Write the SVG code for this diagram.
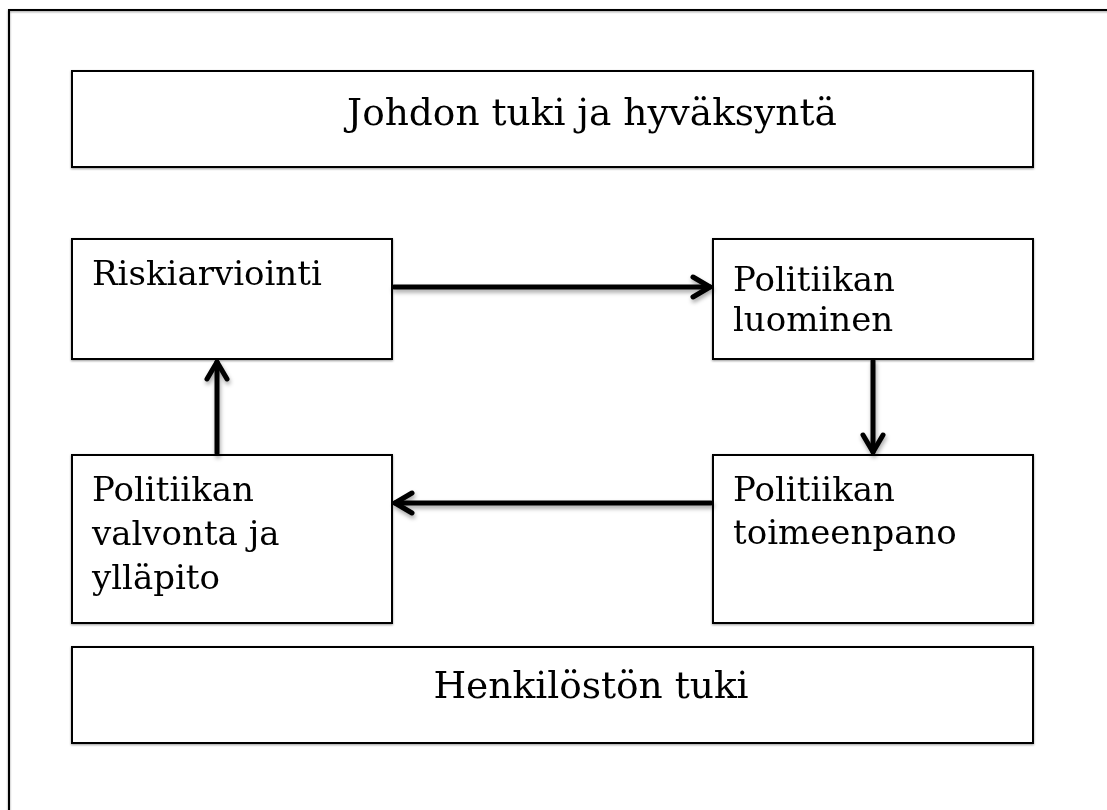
<svg xmlns="http://www.w3.org/2000/svg" width="1107" height="810" viewBox="0 0 1107 810">
  <style>
    .box { fill: #ffffff; stroke: #000000; stroke-width: 2; }
    .lbl { font-family: "DejaVu Serif", "Liberation Serif", serif; font-size: 34px; fill: #000000; }
    .big { font-family: "DejaVu Serif", "Liberation Serif", serif; font-size: 37.5px; fill: #000000; text-anchor: middle; }
    .conn { stroke: #000000; stroke-width: 5; fill: none; stroke-linecap: round; stroke-linejoin: round; }
  </style>
  <defs>
    <filter id="sh" x="-20%" y="-50%" width="140%" height="200%">
      <feDropShadow dx="1" dy="3" stdDeviation="2" flood-color="#000000" flood-opacity="0.35"/>
    </filter>
    <filter id="bsh" x="-5%" y="-5%" width="110%" height="115%">
      <feDropShadow dx="0" dy="1" stdDeviation="0.8" flood-color="#000000" flood-opacity="0.4"/>
    </filter>
    <marker id="arr" markerUnits="userSpaceOnUse" markerWidth="30" markerHeight="30" viewBox="-22 -15 30 30" refX="0" refY="0" orient="auto" overflow="visible">
      <path d="M -17 -10 L 0 0 L -17 10" fill="none" stroke="#000000" stroke-width="5" stroke-linecap="round" stroke-linejoin="round"/>
    </marker>
  </defs>
  <rect width="1107" height="810" fill="#ffffff"/>
  <g id="frame" filter="url(#bsh)">
    <rect x="9" y="10" width="1200" height="900" fill="none" stroke="#000000" stroke-width="2"/>
  </g>
  <g id="johdon-tuki" filter="url(#bsh)">
    <rect class="box" x="72" y="71" width="961" height="96"/>
    <text class="big" x="592" y="125">Johdon tuki ja hyväksyntä</text>
  </g>
  <g id="riskiarviointi" filter="url(#bsh)">
    <rect class="box" x="72" y="239" width="320" height="120"/>
    <text class="lbl" x="92" y="285">Riskiarviointi</text>
  </g>
  <g id="politiikan-luominen" filter="url(#bsh)">
    <rect class="box" x="713" y="239" width="320" height="120"/>
    <text class="lbl" x="733" y="291">Politiikan</text>
    <text class="lbl" x="733" y="331">luominen</text>
  </g>
  <g id="politiikan-valvonta" filter="url(#bsh)">
    <rect class="box" x="72" y="455" width="320" height="168"/>
    <text class="lbl" x="92" y="501">Politiikan</text>
    <text class="lbl" x="92" y="545">valvonta ja</text>
    <text class="lbl" x="92" y="589">ylläpito</text>
  </g>
  <g id="politiikan-toimeenpano" filter="url(#bsh)">
    <rect class="box" x="713" y="455" width="320" height="168"/>
    <text class="lbl" x="733" y="501">Politiikan</text>
    <text class="lbl" x="733" y="544">toimeenpano</text>
  </g>
  <g id="henkiloston-tuki" filter="url(#bsh)">
    <rect class="box" x="72" y="647" width="961" height="96"/>
    <text class="big" x="591" y="698">Henkilöstön tuki</text>
  </g>
  <g id="connectors" filter="url(#sh)">
    <line class="conn" x1="394" y1="287" x2="710" y2="287" marker-end="url(#arr)"/>
    <line class="conn" x1="873" y1="361" x2="873" y2="452" marker-end="url(#arr)"/>
    <line class="conn" x1="711" y1="503" x2="395" y2="503" marker-end="url(#arr)"/>
    <line class="conn" x1="217" y1="453" x2="217" y2="362" marker-end="url(#arr)"/>
  </g>
</svg>
